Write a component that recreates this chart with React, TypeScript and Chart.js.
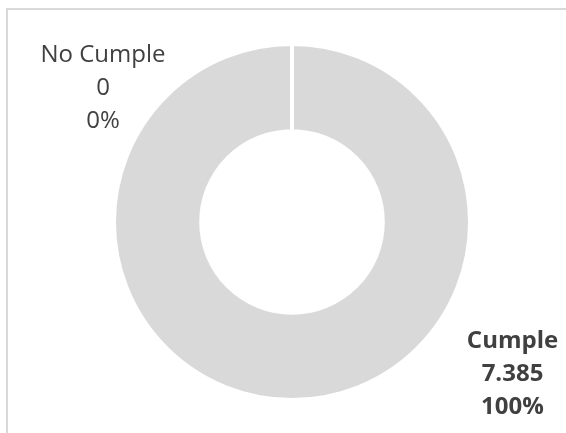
import React, { useEffect, useRef } from "react";
import { Chart, registerables } from "chart.js";

Chart.register(...registerables);

const categories = ["No Cumple", "Cumple"];
const values = [0, 7385];
const valueLabels = ["0", "7.385"];
const percentLabels = ["0%", "100%"];
const sliceColors = ["#a5a5a5", "#d9d9d9"];

const framePlugin = {
  id: "frame",
  beforeDraw(chart: any) {
    const ctx = chart.ctx;
    ctx.save();
    ctx.strokeStyle = "#d9d9d9";
    ctx.lineWidth = 2;
    ctx.strokeRect(7, 9, chart.width + 50, chart.height + 50);
    ctx.restore();
  },
};

const labelPlugin = {
  id: "outsideLabels",
  afterDatasetsDraw(chart: any) {
    const meta = chart.getDatasetMeta(0);
    const ctx = chart.ctx;
    const arc0 = meta.data[0];
    if (!arc0) return;
    const cx = arc0.x;
    const cy = arc0.y;
    const R = arc0.outerRadius + 2;
    // relative placements (in units of outer radius)
    const spots = [
      { dx: -1.05, dy: -0.745, bold: false },
      { dx: 1.225, dy: 0.847, bold: true },
    ];
    ctx.save();
    ctx.textAlign = "center";
    ctx.textBaseline = "middle";
    ctx.fillStyle = "#404040";
    categories.forEach((c, i) => {
      const s = spots[i];
      const x = cx + s.dx * R;
      const y = cy + s.dy * R;
      ctx.font = `${s.bold ? "bold " : ""}24px "Open Sans"`;
      const lines = [c, valueLabels[i], percentLabels[i]];
      lines.forEach((t, k) => {
        ctx.fillText(t, x, y + (k - 1) * 33);
      });
    });
    ctx.restore();
  },
};

export default function App() {
  const ref = useRef<HTMLCanvasElement>(null);
  useEffect(() => {
    if (!ref.current) return;
    const chart = new Chart(ref.current, {
      type: "doughnut",
      data: {
        labels: categories,
        datasets: [
          {
            data: values,
            backgroundColor: sliceColors,
            borderColor: "#ffffff",
            borderWidth: 4,
          },
        ],
      },
      options: {
        animation: false,
        responsive: false,
        cutout: "51%",
        layout: { padding: { top: 42, bottom: 31, left: 112, right: 94 } },
        plugins: {
          legend: { display: false },
          tooltip: { enabled: false },
          title: { display: false },
        },
      },
      plugins: [framePlugin, labelPlugin],
    });
    return () => chart.destroy();
  }, []);
  return (
    <div style={{ position: "fixed", left: 0, top: 0, width: 566, height: 433, background: "#fff" }}>
      <canvas ref={ref} width={566} height={433} style={{ display: "block" }} />
    </div>
  );
}
